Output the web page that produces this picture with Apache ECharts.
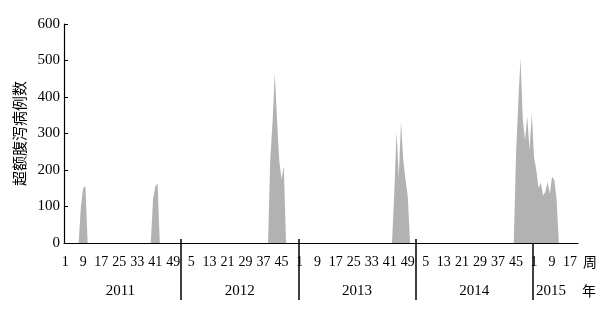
<!DOCTYPE html>
<html><head><meta charset="utf-8">
<script src="https://cdn.jsdelivr.net/npm/echarts@6/dist/echarts.min.js"></script>
<style>html,body{margin:0;padding:0;background:#fff}#c{width:614px;height:309px}</style>
</head><body><div id="c"></div>
<script>
// ---- data ----
const years = [2011, 2012, 2013, 2014, 2015];
const weeksPerYear = [52, 52, 52, 52, 20];
const weekLabelStep = 8;
const yMin = 0, yMax = 600, yStep = 100;
const yTitle = '超额腹泻病例数';
const xWeekName = '周';
const xYearName = '年';
// outbreak periods: year, first week shown, weekly excess cases (0 elsewhere)
const outbreak2011a = { year: 2011, startWeek: 7,  values: [0, 100, 150, 157, 0] };
const outbreak2011b = { year: 2011, startWeek: 39, values: [0, 120, 155, 163, 0] };
const outbreak2012  = { year: 2012, startWeek: 39, values: [0, 230, 330, 466, 337, 225, 175, 210, 0] };
const outbreak2013  = { year: 2013, startWeek: 42, values: [0, 136, 305, 182, 332, 227, 173, 127, 0] };
const outbreak2014  = { year: 2014, startWeek: 44, values: [0, 240, 385, 506, 340, 282, 346, 255, 355, 235, 200, 150, 165, 130, 140, 168, 135, 182, 172, 120, 0] };
const outbreaks = [outbreak2011a, outbreak2011b, outbreak2012, outbreak2013, outbreak2014];
// position (index within year range) used for each year label
const yearLabelOffset = [25, 26, 26, 26, 8];

// ---- build categories ----
const cats = [];
const yearStartIndex = [];
years.forEach((y, k) => {
  yearStartIndex.push(cats.length);
  for (let w = 1; w <= weeksPerYear[k]; w++) cats.push({ year: y, week: w });
});
const weekCats = cats.map(c => c.year + '-' + c.week);
const values = cats.map(() => 0);
outbreaks.forEach(o => {
  const base = yearStartIndex[years.indexOf(o.year)] + o.startWeek - 1;
  o.values.forEach((v, j) => { values[base + j] = v; });
});
// boundary axis: one entry per week boundary
const boundaryCats = [];
for (let i = 0; i <= cats.length; i++) boundaryCats.push(String(i));
const separatorIdx = yearStartIndex.slice(1);
const yearLabelIdx = yearStartIndex.map((s, k) => s + yearLabelOffset[k]);

const serif = "'Liberation Serif', 'Noto Sans CJK SC', serif";
const chart = echarts.init(document.getElementById('c'), null, { renderer: 'canvas' });
chart.setOption({
  animation: false,
  backgroundColor: '#ffffff',
  grid: { left: 64, right: 36, top: 24, bottom: 66, containLabel: false, outerBoundsMode: 'none' },
  xAxis: [{
    type: 'category',
    data: weekCats,
    boundaryGap: true,
    axisLine: { lineStyle: { color: '#000', width: 1.2 } },
    axisTick: { show: false },
    axisLabel: {
      interval: weekLabelStep - 1,
      color: '#000', fontFamily: serif, fontSize: 14, margin: 12,
      formatter: (v, i) => String(cats[i].week)
    },
    name: '\n' + xWeekName, nameLocation: 'end', nameGap: 4,
    nameTextStyle: { color: '#000', fontFamily: serif, fontSize: 14, lineHeight: 40 }
  }, {
    type: 'category',
    data: boundaryCats,
    boundaryGap: false,
    position: 'bottom',
    offset: 57,
    axisLine: { show: false },
    axisTick: {
      show: true, inside: true, length: 61,
      interval: (i) => separatorIdx.indexOf(i) >= 0,
      lineStyle: { color: '#000', width: 1.5 }
    },
    axisLabel: {
      inside: true, margin: 1,
      interval: (i) => yearLabelIdx.indexOf(i) >= 0,
      color: '#000', fontFamily: serif, fontSize: 15,
      formatter: (v, i) => String(years[yearLabelIdx.indexOf(Number(v))])
    },
    name: xYearName + '\n', nameLocation: 'end', nameGap: 4,
    nameTextStyle: { color: '#000', fontFamily: serif, fontSize: 14, lineHeight: 16 }
  }],
  yAxis: {
    type: 'value', min: yMin, max: yMax, interval: yStep,
    axisLine: { show: true, lineStyle: { color: '#000', width: 1.2 } },
    axisTick: { show: true, inside: true, length: 4, lineStyle: { color: '#000' } },
    splitLine: { show: false },
    axisLabel: { color: '#000', fontFamily: serif, fontSize: 15, margin: 4 },
    name: yTitle, nameLocation: 'middle', nameRotate: 90, nameGap: 37,
    nameTextStyle: { color: '#000', fontFamily: "'Noto Sans CJK SC', sans-serif", fontSize: 15 }
  },
  series: [{
    type: 'line',
    xAxisIndex: 0,
    data: values,
    symbol: 'none',
    lineStyle: { width: 0 },
    areaStyle: { color: '#b2b2b2', opacity: 1 }
  }]
});
</script>
</body></html>
